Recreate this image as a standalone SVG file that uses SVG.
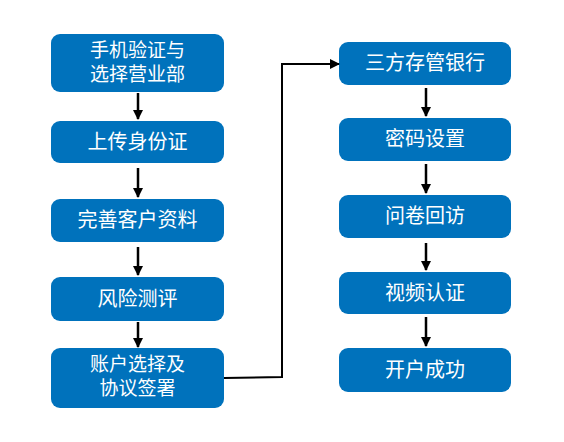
<svg xmlns="http://www.w3.org/2000/svg" width="564" height="442" viewBox="0 0 564 442">
<style>
.box{fill:#0072BC;}
.t{fill:#fff;font-family:"Microsoft YaHei","Noto Sans CJK SC",sans-serif;font-size:20px;text-anchor:middle;}
.t2{font-size:19px;}
.ln{stroke:#000;stroke-width:2.5;fill:none;}
.cn{stroke:#000;stroke-width:2;fill:none;}
</style>
<defs>
<marker id="ah" viewBox="0 0 10 10" refX="9" refY="5" markerWidth="4" markerHeight="4" orient="auto" markerUnits="strokeWidth">
<path d="M0,0 L10,5 L0,10 Z" fill="#000"/>
</marker>
<marker id="ah2" viewBox="0 0 10 10" refX="9" refY="5" markerWidth="5" markerHeight="5" orient="auto" markerUnits="strokeWidth">
<path d="M0,0 L10,5 L0,10 Z" fill="#000"/>
</marker>
</defs>
<rect width="564" height="442" fill="#fff"/>
<g id="n1"><rect class="box" x="51" y="34" width="173" height="58" rx="9"/><text class="t t2" x="137.5" y="57">手机验证与</text><text class="t t2" x="137.5" y="81">选择营业部</text></g>
<g id="n2"><rect class="box" x="51" y="121" width="173" height="42" rx="9"/><text class="t" x="137.5" y="149">上传身份证</text></g>
<g id="n3"><rect class="box" x="51" y="199" width="173" height="43" rx="9"/><text class="t" x="137.5" y="227">完善客户资料</text></g>
<g id="n4"><rect class="box" x="51" y="277" width="173" height="44" rx="9"/><text class="t" x="137.5" y="306">风险测评</text></g>
<g id="n5"><rect class="box" x="51" y="348" width="173" height="60" rx="9"/><text class="t t2" x="137.5" y="371">账户选择及</text><text class="t t2" x="137.5" y="395">协议签署</text></g>
<g id="n6"><rect class="box" x="339" y="42" width="172" height="43" rx="9"/><text class="t" x="425" y="70">三方存管银行</text></g>
<g id="n7"><rect class="box" x="339" y="118" width="172" height="43" rx="9"/><text class="t" x="425" y="146">密码设置</text></g>
<g id="n8"><rect class="box" x="339" y="195" width="172" height="43" rx="9"/><text class="t" x="425" y="223">问卷回访</text></g>
<g id="n9"><rect class="box" x="339" y="272" width="172" height="42" rx="9"/><text class="t" x="425" y="300">视频认证</text></g>
<g id="n10"><rect class="box" x="339" y="348" width="172" height="44" rx="9"/><text class="t" x="425" y="377">开户成功</text></g>
<g id="connectors">
<line class="ln" x1="138" y1="93" x2="138" y2="119" marker-end="url(#ah)"/>
<line class="ln" x1="138" y1="168" x2="138" y2="197" marker-end="url(#ah)"/>
<line class="ln" x1="138" y1="247" x2="138" y2="275" marker-end="url(#ah)"/>
<line class="ln" x1="138" y1="322" x2="138" y2="347" marker-end="url(#ah)"/>
<line class="ln" x1="426" y1="88" x2="426" y2="116" marker-end="url(#ah)"/>
<line class="ln" x1="426" y1="164" x2="426" y2="193" marker-end="url(#ah)"/>
<line class="ln" x1="426" y1="243" x2="426" y2="270" marker-end="url(#ah)"/>
<line class="ln" x1="426" y1="317" x2="426" y2="346" marker-end="url(#ah)"/>
<polyline class="cn" points="224,378 282,377 282,64 339,64" marker-end="url(#ah2)"/>
</g>
</svg>
